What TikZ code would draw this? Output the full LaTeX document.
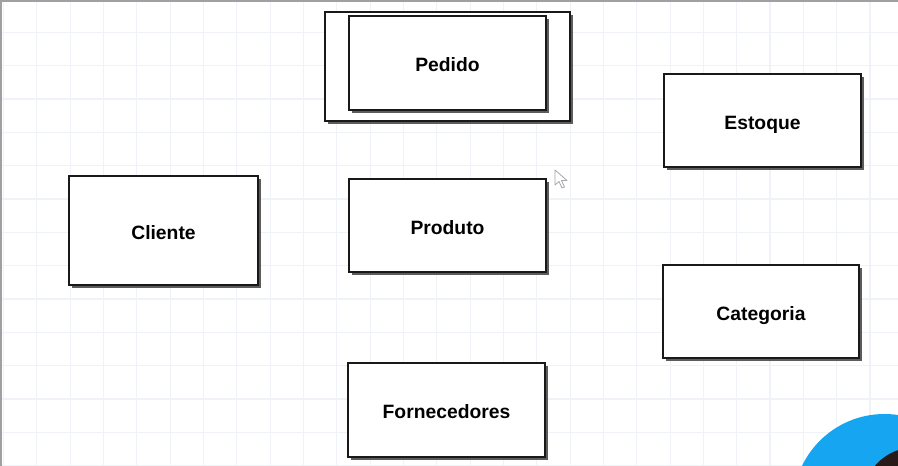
\documentclass[tikz,border=0pt]{standalone}
\usepackage{fontspec}
\setmainfont{Liberation Sans}
\usetikzlibrary{shadows}
\definecolor{gridc}{RGB}{239,242,247}
\definecolor{edgec}{RGB}{160,160,160}
\definecolor{camblue}{RGB}{22,165,240}
\definecolor{camdark}{RGB}{40,26,24}
\tikzset{
  entity/.style={draw=black!90, line width=1.4pt, fill=white, inner sep=0pt,
    text height=17pt, text depth=0pt,
    font=\fontsize{19.3}{23}\selectfont\bfseries,
    drop shadow={shadow xshift=2.6pt, shadow yshift=-2.6pt, opacity=.85, fill=black!75}},
  gridline/.style={draw=gridc, line width=1.2pt}
}
\begin{document}
\begin{tikzpicture}[x=1pt,y=-1pt]
\useasboundingbox (0,0) rectangle (898,466);
\fill[white] (0,0) rectangle (898,466);
% grid
\foreach \i in {0,...,26} { \draw[gridline] ({3.5+33.33*\i},0) -- ({3.5+33.33*\i},466); }
\foreach \j in {0,...,13} { \draw[gridline] (0,{32.3+33.33*\j}) -- (898,{32.3+33.33*\j}); }
% canvas edges
\draw[edgec, line width=1.6pt] (0,1) -- (898,1);
\draw[edgec, line width=1.6pt] (1,0) -- (1,466);
% entities
\node[entity, minimum width=245pt, minimum height=109pt] (pedidoOuter) at (447.5,66.5) {};
\node[entity, minimum width=197pt, minimum height=94pt] (pedido) at (447.5,63) {Pedido};
\node[entity, minimum width=197pt, minimum height=93pt] (estoque) at (762.5,120.5) {Estoque};
\node[entity, minimum width=189pt, minimum height=109pt] (cliente) at (163.5,230.5) {Cliente};
\node[entity, minimum width=197pt, minimum height=93pt] (produto) at (447.5,225.5) {Produto};
\node[entity, minimum width=196pt, minimum height=93pt] (categoria) at (761,311.5) {Categoria};
\node[entity, minimum width=197pt, minimum height=94pt] (fornecedores) at (446.5,410) {Fornecedores};
% mouse cursor
\draw[black!35, fill=white, line width=0.8pt, line join=round]
  (555,170) -- (555,185) -- (559,181.5) -- (562,188) -- (564.5,187) -- (561.5,180.5) -- (567,180.5) -- cycle;
% webcam overlay
\begin{scope}
\clip (0,0) rectangle (898,466);
\fill[camblue] (884.5,505.5) circle (91.5);
\fill[camdark] (915,500) circle (52.7);
\end{scope}
\end{tikzpicture}
\end{document}
